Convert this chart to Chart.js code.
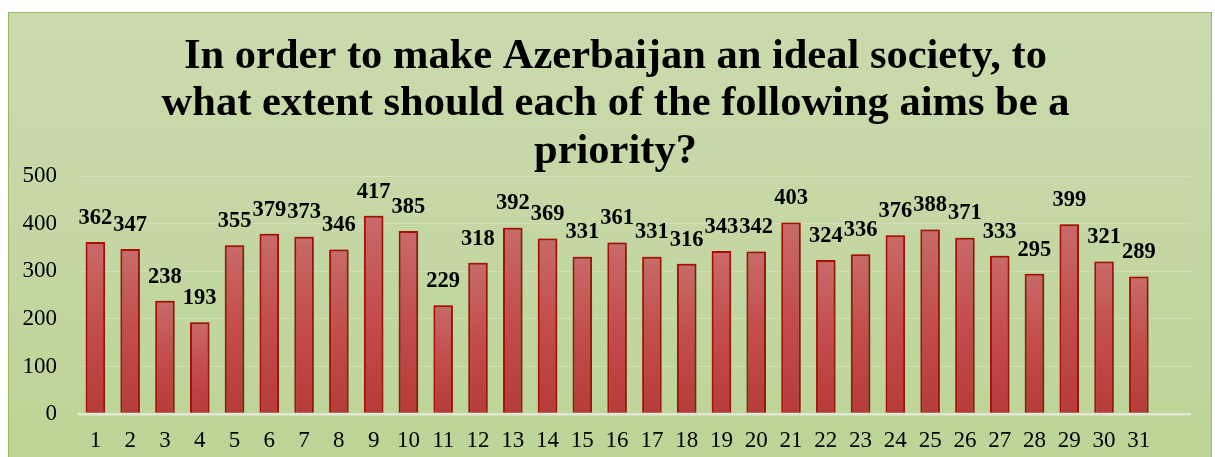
<!DOCTYPE html>
<html>
<head>
<meta charset="utf-8">
<script src="https://cdn.jsdelivr.net/npm/chart.js@4.4.0/dist/chart.umd.min.js"></script>
<style>
  html, body { margin: 0; padding: 0; background: #ffffff; width: 1215px; height: 457px; overflow: hidden; }
  #frame {
    position: absolute; left: 8px; top: 12px; width: 1202px; height: 460px;
    border: 1px solid #9bbb59;
    background: linear-gradient(to bottom, #cadaae 0%, #c4d7a3 50%, #bcd496 100%);
  }
  #wrap { position: absolute; left: 0; top: 0; width: 1215px; height: 457px; }
</style>
</head>
<body>
<div id="frame"></div>
<div id="wrap"><canvas id="c" width="1215" height="457"></canvas></div>
<script>
const titleLines = [
  "In order to make Azerbaijan an ideal society, to",
  "what extent should each of the following aims be a",
  "priority?"
];
const categories = ["1","2","3","4","5","6","7","8","9","10","11","12","13","14","15","16",
  "17","18","19","20","21","22","23","24","25","26","27","28","29","30","31",""];
const values = [362,347,238,193,355,379,373,346,417,385,229,318,392,369,331,361,
  331,316,343,342,403,324,336,376,388,371,333,295,399,321,289];
const yTicks = [0,100,200,300,400,500];

const serif = "'Liberation Serif', 'Times New Roman', serif";

const titleShift = {
  id: 'titleShift',
  afterLayout(chart) {
    if (chart.titleBlock) {
      chart.titleBlock.left = 40;
    }
  }
};

const barShadow = {
  id: 'barShadow',
  beforeDatasetsDraw(chart) {
    const ctx = chart.ctx;
    ctx.save();
    ctx.shadowColor = 'rgba(50,70,20,0.7)';
    ctx.shadowBlur = 8;
    ctx.shadowOffsetX = 1;
    ctx.shadowOffsetY = 0;
  },
  afterDatasetsDraw(chart) {
    chart.ctx.restore();
  }
};

const valueLabels = {
  id: 'valueLabels',
  afterDatasetsDraw(chart) {
    const ctx = chart.ctx;
    const meta = chart.getDatasetMeta(0);
    ctx.save();
    ctx.font = "bold 22.5px " + serif;
    ctx.fillStyle = '#000000';
    ctx.textAlign = 'center';
    ctx.textBaseline = 'middle';
    meta.data.forEach((el, i) => {
      ctx.fillText(String(values[i]), el.x, el.y - 24);
    });
    ctx.restore();
  }
};

function barFill(context) {
  const chart = context.chart;
  const area = chart.chartArea;
  if (!area || context.dataIndex === undefined) return '#c04848';
  const y = chart.scales.y;
  const v = values[context.dataIndex];
  const top = y.getPixelForValue(v);
  const bottom = y.getPixelForValue(0);
  if (!isFinite(top) || !isFinite(bottom) || top === bottom) return '#c04848';
  const g = chart.ctx.createLinearGradient(0, top, 0, bottom);
  g.addColorStop(0, '#c96a6a');
  g.addColorStop(0.5, '#c34c4c');
  g.addColorStop(1, '#b73b3b');
  return g;
}

new Chart(document.getElementById('c'), {
  type: 'bar',
  data: {
    labels: categories,
    datasets: [{
      data: values,
      backgroundColor: barFill,
      borderColor: '#c80000',
      borderWidth: 2,
      borderSkipped: 'bottom',
      barPercentage: 0.56,
      categoryPercentage: 1.0
    }]
  },
  options: {
    responsive: false,
    animation: false,
    layout: { padding: { left: 0, right: 24, top: 0, bottom: 0 } },
    plugins: {
      legend: { display: false },
      tooltip: { enabled: false },
      title: {
        display: true,
        text: titleLines,
        color: '#000000',
        font: { family: serif, size: 42.5, weight: 'bold', lineHeight: 1.12 },
        padding: { top: 33, bottom: 0.5 }
      }
    },
    scales: {
      x: {
        grid: { display: false, drawTicks: false },
        border: { display: false },
        ticks: { color: '#000000', font: { family: serif, size: 23 }, padding: 13, maxRotation: 0, autoSkip: false },
        afterFit(s) { s.height = 43; }
      },
      y: {
        min: 0, max: 500,
        afterBuildTicks(s) { s.ticks = yTicks.map(v => ({ value: v })); },
        grid: {
          drawTicks: false,
          color: (c) => (c.tick && c.tick.value === 0) ? '#e2e8d8' : 'rgba(255,255,255,0.22)',
          lineWidth: (c) => (c.tick && c.tick.value === 0) ? 2.5 : 1
        },
        border: { display: false },
        ticks: { color: '#000000', font: { family: serif, size: 23 }, padding: 21 },
        afterFit(s) { s.width = 78; }
      }
    }
  },
  plugins: [titleShift, barShadow, valueLabels]
});
</script>
</body>
</html>
